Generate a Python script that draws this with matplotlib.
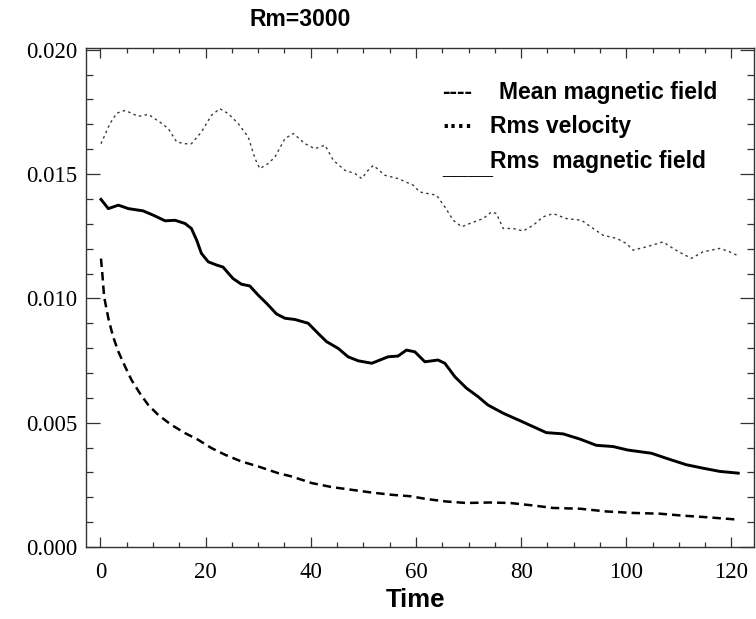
import matplotlib
matplotlib.use("Agg")
import matplotlib.pyplot as plt
import numpy as np

# ---------------- data ----------------
vel_time = [0.1, 1.8, 3.1, 4.7, 7.2, 9.1, 11.3, 12.9, 14.5, 16.1, 17.3, 19.2, 21.1,
            22.7, 24.3, 26.2, 28.1, 29.4, 30.3, 31.9, 33.2, 35.1, 36.7, 38.9, 40.8,
            42.7, 44.3, 46.5, 48.4, 49.7, 50.9, 51.9, 54.1, 56.6, 59.5, 60.7, 63.9,
            65.5, 67.1, 68.7, 70.6, 72.8, 74.4, 75.3, 76.6, 78.5, 80.4, 82.3, 84.2,
            86.1, 88.6, 91.5, 93.7, 95.6, 98.2, 100.0, 101.3, 103.8, 107.0, 108.9,
            110.8, 112.4, 114.6, 117.8, 119.7, 121.0]
rms_velocity = [0.01622, 0.01703, 0.01745, 0.01756, 0.01732, 0.01740, 0.01709, 0.01683,
                0.01629, 0.01622, 0.01622, 0.01669, 0.01736, 0.01763, 0.01743, 0.01703,
                0.01649, 0.01562, 0.01522, 0.01542, 0.01569, 0.01643, 0.01663, 0.01622,
                0.01602, 0.01616, 0.01555, 0.01515, 0.01502, 0.01482, 0.01515, 0.01535,
                0.01495, 0.01482, 0.01455, 0.01428, 0.01415, 0.01368, 0.01314, 0.01288,
                0.01304, 0.01321, 0.01348, 0.01341, 0.01281, 0.01281, 0.01271, 0.01294,
                0.01328, 0.01341, 0.01321, 0.01314, 0.01281, 0.01254, 0.01241, 0.01221,
                0.01194, 0.01207, 0.01227, 0.01201, 0.01178, 0.01161, 0.01187, 0.01201,
                0.01187, 0.01174]

rmsb_time = [0.1, 1.5, 3.4, 5.3, 8.1, 10.0, 12.3, 14.2, 16.1, 17.3, 18.3, 19.2, 20.5,
             22.1, 23.3, 25.2, 26.8, 28.4, 30.0, 31.6, 33.5, 35.1, 37.0, 39.5, 41.4,
             43.0, 45.2, 47.1, 49.0, 51.6, 52.8, 54.7, 56.6, 58.2, 59.8, 61.7, 64.2,
             65.5, 67.4, 69.6, 71.8, 73.7, 76.6, 79.8, 82.3, 84.8, 88.0, 91.2, 94.3,
             97.5, 100.3, 104.8, 107.6, 111.4, 114.6, 117.8, 121.3]
rms_bfield = [0.01398, 0.01361, 0.01375, 0.01361, 0.01352, 0.01335, 0.01312, 0.01314,
              0.01301, 0.01281, 0.01234, 0.01181, 0.01147, 0.01134, 0.01126, 0.01080,
              0.01057, 0.01050, 0.01013, 0.00980, 0.00937, 0.00920, 0.00915, 0.00900,
              0.00859, 0.00826, 0.00799, 0.00765, 0.00749, 0.00739, 0.00749, 0.00765,
              0.00768, 0.00792, 0.00785, 0.00745, 0.00752, 0.00739, 0.00685, 0.00639,
              0.00605, 0.00571, 0.00538, 0.00508, 0.00484, 0.00460, 0.00455, 0.00434,
              0.00409, 0.00404, 0.00390, 0.00377, 0.00357, 0.00331, 0.00317, 0.00304,
              0.00297]

mean_time = [0.1, 0.35, 0.7, 1.5, 2.4, 3.4, 4.7, 5.9, 7.5, 9.1, 11.0, 13.5, 16.1, 18.6,
             21.1, 23.7, 26.8, 30.0, 33.8, 36.3, 40.2, 44.0, 47.8, 51.6, 55.4, 59.0,
             62.0, 65.8, 69.6, 74.0, 77.9, 82.3, 86.1, 91.2, 96.2, 101.3, 106.4, 110.8,
             115.2, 121.3]
mean_bfield = [0.01160, 0.01100, 0.01006, 0.00920, 0.00846, 0.00786, 0.00725, 0.00672,
               0.00618, 0.00571, 0.00531, 0.00491, 0.00458, 0.00431, 0.00398, 0.00371,
               0.00344, 0.00324, 0.00297, 0.00284, 0.00257, 0.00241, 0.00230, 0.00219,
               0.00210, 0.00204, 0.00193, 0.00183, 0.00177, 0.00179, 0.00177, 0.00167,
               0.00157, 0.00154, 0.00143, 0.00137, 0.00134, 0.00126, 0.00120, 0.00110]

x_ticks = [0, 20, 40, 60, 80, 100, 120]
y_ticks = [0.000, 0.005, 0.010, 0.015, 0.020]
y_ticklabels = ["0.000", "0.005", "0.010", "0.015", "0.020"]
legend_labels = ["Mean magnetic field", "Rms velocity", "Rms  magnetic field"]
legend_symbols = ["----", "····", "____"]

# ---------------- figure ----------------
W, H = 756, 619
fig = plt.figure(figsize=(W / 100, H / 100), dpi=100)
fig.patch.set_facecolor("white")
ax = fig.add_axes([86 / W, 1 - 547 / H, (754 - 86) / W, (547 - 48) / H])

ax.plot(mean_time, mean_bfield, color="black", lw=1.8, linestyle=(0, (3.4, 2.0)),
        solid_capstyle="butt", dash_capstyle="butt")
ax.plot(vel_time, rms_velocity, color="#3a3a3a", lw=1.0, linestyle=(0, (1.8, 2.4)))
ax.plot(rmsb_time, rms_bfield, color="black", lw=2.1)

ax.set_xlim(-2.75, 124.3)
ax.set_ylim(0.0, 0.02007)
ax.set_xticks(x_ticks)
ax.set_xticklabels([str(v) for v in x_ticks])
ax.set_yticks(y_ticks)
ax.set_yticklabels(y_ticklabels)
ax.set_xticks(np.arange(0, 125, 5), minor=True)
ax.set_yticks(np.arange(0, 0.0201, 0.001), minor=True)

for lab in ax.get_xticklabels() + ax.get_yticklabels():
    lab.set_fontfamily("Liberation Serif")
    lab.set_fontsize(16.5)

ax.tick_params(axis="both", which="both", direction="in", top=True, right=True,
               color="#333333", width=0.9)
ax.tick_params(axis="x", which="major", length=7.5, pad=11)
ax.tick_params(axis="x", which="minor", length=3.5)
ax.tick_params(axis="y", which="major", length=10, pad=6)
ax.tick_params(axis="y", which="minor", length=5)
for sp in ax.spines.values():
    sp.set_color("#333333")
    sp.set_linewidth(1.0)

# title and axis label
fig.text(300 / W, 1 - 20 / H, "Rm=3000", ha="center", va="center",
         fontfamily="Liberation Sans", fontweight="bold", fontsize=16.5)
fig.text(415 / W, 1 - 600 / H, "Time", ha="center", va="center",
         fontfamily="Liberation Sans", fontweight="bold", fontsize=18.5)

# legend drawn as text, as in the original
rows_y = [92, 127, 161]
sym_y = [92, 127, 168]
xs = [499, 490, 490]
for sym, sy in zip(legend_symbols, sym_y):
    fig.text(442 / W, 1 - sy / H, sym, ha="left", va="center",
             fontfamily="Liberation Sans", fontweight="bold", fontsize=16.5)
for lab, ry, xx in zip(legend_labels, rows_y, xs):
    fig.text(xx / W, 1 - ry / H, lab, ha="left", va="center",
             fontfamily="Liberation Sans", fontweight="bold", fontsize=16.5)

fig.savefig("out.png", dpi=100, facecolor="white")
